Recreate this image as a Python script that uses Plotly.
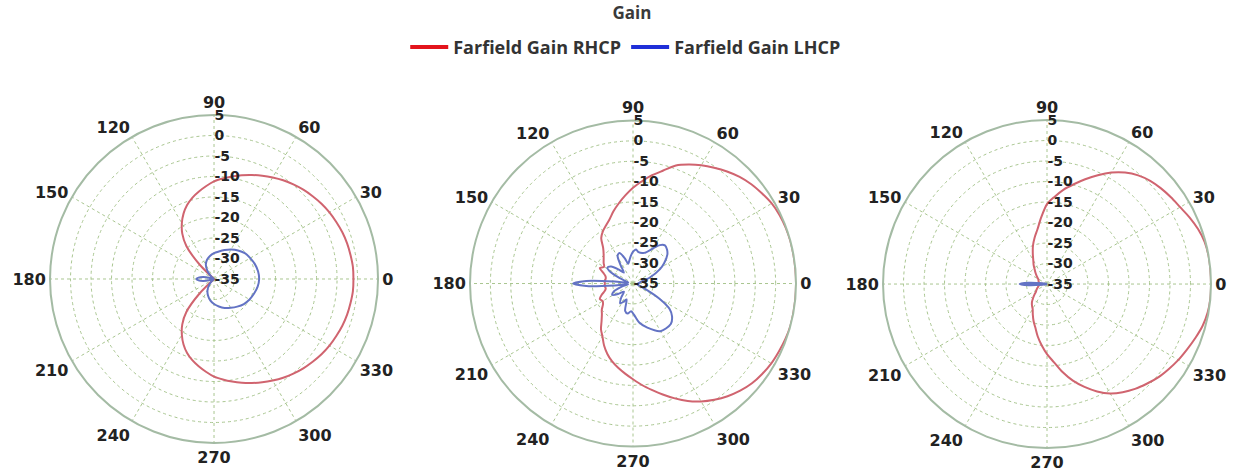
import plotly.graph_objects as go

# ---- data: farfield gain cuts (dB), angle in degrees ----
theta_5 = list(range(0, 361, 5))

# cut 1
rhcp_1 = [
    -1.0, -1.0, -1.2, -1.4, -1.7, -2.1, -2.5, -3.0, -3.6, -4.2,
    -4.9, -5.6, -6.4, -7.2, -8.0, -8.8, -9.6, -10.4, -11.2, -12.3,
    -13.4, -14.5, -15.8, -17.4, -19.3, -21.5, -24.5, -30.0, -35.0, -35.0,
    -35.0, -35.0, -35.0, -35.0, -35.0, -35.0, -35.0, -35.0, -35.0, -35.0,
    -35.0, -35.0, -35.0, -35.0, -35.0, -30.0, -24.5, -21.5, -19.3, -17.4,
    -15.8, -14.5, -13.4, -12.3, -11.2, -10.4, -9.6, -8.8, -8.0, -7.2,
    -6.4, -5.6, -4.9, -4.2, -3.6, -3.0, -2.5, -2.1, -1.7, -1.4,
    -1.2, -1.0, -1.0,
]
lhcp_1_theta = [0, 10, 20, 30, 40, 50, 60, 70, 80, 90, 100, 110, 120, 130, 140,
                150, 160, 165, 170, 175, 180, 185, 190, 195, 200, 210, 220, 230,
                240, 250, 260, 270, 280, 290, 300, 310, 320, 330, 340, 350, 360]
lhcp_1 = [-24.0, -24.1, -24.4, -24.8, -25.2, -25.9, -26.7, -27.5, -28.2, -28.7,
          -29.3, -30.0, -31.0, -32.6, -34.3, -35.0, -35.0, -34.0, -32.3, -31.2,
          -30.7, -31.2, -32.3, -34.0, -35.0, -35.0, -34.5, -33.2, -31.8, -30.7,
          -29.7, -28.9, -28.2, -27.5, -26.9, -26.2, -25.5, -25.0, -24.6, -24.2,
          -24.0]

# cut 2
rhcp_2 = [
    5.0, 5.0, 5.0, 5.0, 4.9, 4.7, 4.3, 3.6, 2.9, 2.0,
    0.9, -0.3, -1.5, -2.8, -4.2, -6.3, -8.0, -9.8, -11.5, -13.3,
    -15.0, -16.6, -18.2, -19.3, -20.2, -21.4, -23.6, -24.8, -25.6, -26.2,
    -26.8, -26.0, -27.2, -28.0, -28.2, -28.0, -28.1, -28.0, -28.2, -27.8,
    -26.8, -26.0, -26.4, -26.0, -25.0, -24.2, -23.0, -21.3, -20.0, -18.2,
    -16.6, -15.2, -14.0, -12.8, -11.5, -10.0, -8.5, -6.8, -5.0, -3.2,
    -1.6, -0.2, 1.1, 2.2, 3.1, 3.7, 4.2, 4.5, 4.8, 5.0,
    5.0, 5.0, 5.0,
]
lhcp_2_theta = [0, 10, 20, 28, 33, 40, 45, 50, 55, 60, 70, 80, 85, 90, 95, 100,
                104, 108, 114, 119, 124, 130, 136, 142, 148, 153, 158, 164, 170,
                174, 177, 180, 183, 186, 190, 196, 203, 209, 215, 222, 230, 237,
                243, 248, 254, 260, 266, 272, 279, 288, 300, 313, 320, 325, 330,
                335, 340, 350, 360]
lhcp_2 = [-33.8, -33.2, -30.5, -27.5, -25.9, -24.0, -23.2, -22.8, -23.5, -25.0,
          -27.0, -27.2, -26.6, -27.2, -28.3, -29.5, -30.0, -28.5, -26.8, -27.2,
          -29.5, -31.5, -30.0, -28.2, -27.6, -28.8, -31.5, -33.5, -33.8, -30.5,
          -23.5, -20.3, -23.5, -30.5, -33.8, -32.0, -29.8, -29.2, -30.5, -32.0,
          -30.5, -29.2, -30.0, -30.8, -28.0, -27.5, -28.2, -27.3, -25.3, -23.6,
          -21.5, -21.4, -22.5, -24.0, -27.5, -31.3, -33.3, -34.0, -33.8]

# cut 3
rhcp_3 = [
    5.0, 5.0, 5.0, 4.8, 4.2, 3.4, 2.5, 1.9, 1.3, 0.6,
    -0.4, -1.8, -3.6, -5.7, -7.8, -9.8, -11.6, -13.6, -15.5, -18.7,
    -21.5, -23.3, -25.0, -26.8, -28.3, -29.3, -30.3, -31.0, -31.6, -32.1,
    -32.5, -32.7, -32.8, -32.9, -33.0, -33.3, -34.2, -33.3, -33.0, -32.8,
    -32.6, -32.3, -32.0, -31.7, -31.0, -30.2, -29.3, -28.6, -28.0, -26.8,
    -25.4, -24.0, -22.0, -20.0, -17.9, -15.9, -13.2, -10.6, -8.3, -6.1,
    -4.2, -2.8, -1.6, -0.6, 0.4, 1.2, 2.0, 2.7, 3.5, 4.3,
    4.8, 5.0, 5.0,
]
lhcp_3_theta = [0, 90, 170, 174, 177, 180, 183, 186, 190, 270, 360]
lhcp_3 = [-35.0, -35.0, -35.0, -33.8, -30.5, -28.4, -30.5, -33.8, -35.0, -35.0, -35.0]

# ---- axes ----
angle_ticks = list(range(0, 360, 30))
angle_labels = [str(a) for a in angle_ticks]
radial_ticks = [-35, -30, -25, -20, -15, -10, -5, 0, 5]
radial_labels = ["-35", "-30", "-25", "-20", "-15", "-10", "-5", "0", "5"]

RHCP_COLOR = "#d0646f"
LHCP_COLOR = "#6373c4"
GRID = "#a9c690"
RIM = "#a4bba4"
TEXT_FONT = "Open Sans"
NUM_FONT = "DejaVu Sans"

cuts = [
    ("polar", rhcp_1, lhcp_1_theta, lhcp_1, 2),
    ("polar2", rhcp_2, lhcp_2_theta, lhcp_2, 2),
    ("polar3", rhcp_3, lhcp_3_theta, lhcp_3, 2.6),
]

fig = go.Figure()
for sub, r_rhcp, th_lhcp, r_lhcp, lw in cuts:
    fig.add_trace(go.Scatterpolar(
        theta=theta_5, r=r_rhcp, mode="lines", subplot=sub,
        line=dict(color=RHCP_COLOR, width=2, shape="spline", smoothing=0.8),
        showlegend=False, name="Farfield Gain RHCP"))
    fig.add_trace(go.Scatterpolar(
        theta=th_lhcp, r=r_lhcp, mode="lines", subplot=sub,
        line=dict(color=LHCP_COLOR, width=lw, shape="spline", smoothing=0.8),
        showlegend=False, name="Farfield Gain LHCP"))

# legend keys
fig.add_trace(go.Scatterpolar(theta=[None], r=[None], mode="lines", subplot="polar",
                              name="Farfield Gain RHCP",
                              line=dict(color="#e3141c", width=4)))
fig.add_trace(go.Scatterpolar(theta=[None], r=[None], mode="lines", subplot="polar",
                              name="Farfield Gain LHCP",
                              line=dict(color="#1f2fd8", width=4)))


def polar_axes(xd, yd):
    return dict(
        domain=dict(x=xd, y=yd),
        bgcolor="white",
        angularaxis=dict(
            rotation=0, direction="counterclockwise",
            tickmode="array", tickvals=angle_ticks, ticktext=angle_labels,
            showgrid=True, gridcolor=GRID, gridwidth=1, griddash="dot",
            showline=True, linecolor=RIM, linewidth=2,
            ticks="", tickfont=dict(family=NUM_FONT, size=16, color="#222222",
                                    weight="bold"),
        ),
        radialaxis=dict(
            range=[-35, 5], tickmode="array", tickvals=radial_ticks,
            ticktext=radial_labels, angle=90, tickangle=90, side="clockwise",
            showline=False, showgrid=True, gridcolor=GRID, gridwidth=1,
            griddash="dot", ticks="",
            tickfont=dict(family=NUM_FONT, size=14, color="#222222",
                          weight="bold"),
        ),
    )


fig.update_layout(
    width=1244, height=473,
    margin=dict(l=0, r=0, t=0, b=0),
    paper_bgcolor="white",
    font=dict(family=TEXT_FONT, color="#333333"),
    title=dict(text="<b>Gain</b>", x=0.508, xanchor="center", y=0.9725,
               yanchor="middle", font=dict(size=17, color="#3a3a3a")),
    legend=dict(orientation="h", x=0.503, xanchor="center", y=0.90,
                yanchor="middle", itemwidth=38,
                font=dict(size=18, color="#333333", weight="bold"),
                bgcolor="rgba(0,0,0,0)"),
    polar=polar_axes([0.0402, 0.3039], [0.0634, 0.7569]),
    polar2=polar_axes([0.3778, 0.6399], [0.0560, 0.7452]),
    polar3=polar_axes([0.7098, 0.9735], [0.0528, 0.7462]),
)

fig.write_html("out.html")
